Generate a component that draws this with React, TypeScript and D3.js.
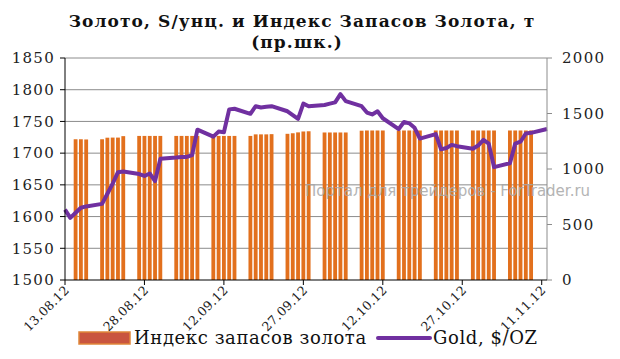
import * as d3 from "d3";

// trading days, 13.08.12 - 12.11.12
const days = [
  "13.08.12", "14.08.12", "15.08.12", "16.08.12", "17.08.12",
  "20.08.12", "21.08.12", "22.08.12", "23.08.12", "24.08.12",
  "27.08.12", "28.08.12", "29.08.12", "30.08.12", "31.08.12",
  "03.09.12", "04.09.12", "05.09.12", "06.09.12", "07.09.12",
  "10.09.12", "11.09.12", "12.09.12", "13.09.12", "14.09.12",
  "17.09.12", "18.09.12", "19.09.12", "20.09.12", "21.09.12",
  "24.09.12", "25.09.12", "26.09.12", "27.09.12", "28.09.12",
  "01.10.12", "02.10.12", "03.10.12", "04.10.12", "05.10.12",
  "08.10.12", "09.10.12", "10.10.12", "11.10.12", "12.10.12",
  "15.10.12", "16.10.12", "17.10.12", "18.10.12", "19.10.12",
  "22.10.12", "23.10.12", "24.10.12", "25.10.12", "26.10.12",
  "29.10.12", "30.10.12", "31.10.12", "01.11.12", "02.11.12",
  "05.11.12", "06.11.12", "07.11.12", "08.11.12", "09.11.12",
  "12.11.12",
];

// Gold, $/OZ (left scale)
const gold = [
  1611, 1598, 1606, 1614, 1616,
  1620, 1636, 1652, 1670, 1671,
  1667, 1664, 1668, 1656, 1691,
  1693, 1694, 1694, 1697, 1737,
  1726, 1734, 1733, 1769, 1770,
  1762, 1774, 1772, 1773, 1774,
  1766, 1760, 1754, 1778, 1774,
  1776, 1778, 1780, 1793, 1782,
  1774, 1764, 1761, 1766, 1755,
  1738, 1749, 1747, 1740, 1723,
  1730, 1706, 1708, 1713, 1711,
  1707, 1712, 1721, 1715, 1678,
  1684, 1715, 1718, 1731, 1732,
  1738,
];

// Индекс запасов золота, т (right scale)
const stock: (number | null)[] = [
  null, null, 1268, 1268, 1266,
  1268, 1282, 1283, 1283, 1296,
  1298, 1298, 1298, 1298, 1298,
  1298, 1298, 1298, 1298, 1298,
  1298, 1298, 1298, 1298, 1298,
  1298, 1312, 1312, 1312, 1314,
  1317, 1322, 1330, 1338, 1340,
  1329, 1329, 1329, 1329, 1329,
  1345, 1347, 1347, 1347, 1347,
  1347, 1347, 1347, 1347, 1347,
  1347, 1347, 1347, 1347, 1347,
  1347, 1347, 1347, 1347, 1347,
  1347, 1347, 1347, 1347, 1347,
  null,
];

const xTickLabels = ["13.08.12", "28.08.12", "12.09.12", "27.09.12", "12.10.12", "27.10.12", "11.11.12"];
const leftTicks = [1500, 1550, 1600, 1650, 1700, 1750, 1800, 1850];
const rightTicks = [0, 500, 1000, 1500, 2000];

const W = 620;
const H = 359;
const left = 65;
const right = 547;
const top = 58;
const bottom = 280;

const parse = d3.utcParse("%d.%m.%y");
const serif = "'DejaVu Serif', serif";

export default function App() {
  const dates = days.map((d) => parse(d) as Date);
  const x = d3.scaleUtc().domain([dates[0], dates[dates.length - 1]]).range([left, right]);
  const yL = d3.scaleLinear().domain([1500, 1850]).range([bottom, top]);
  const yR = d3.scaleLinear().domain([0, 2000]).range([bottom, top]);
  const dayW = x(d3.utcDay.offset(dates[0], 1)) - x(dates[0]);
  const barW = dayW * 0.72;

  const goldLine = d3
    .line<number>()
    .x((_, i) => x(dates[i]))
    .y((d) => yL(d));

  return (
    <svg width={W} height={H} style={{ position: "absolute", left: 0, top: 0, background: "#fff" }}>
      <text x={302} y={27} textAnchor="middle" fontFamily={serif} fontWeight="bold" fontSize={17} letterSpacing={1.1} fill="#111">
        Золото, S/унц. и Индекс Запасов Золота, т
      </text>
      <text x={297} y={48} textAnchor="middle" fontFamily={serif} fontWeight="bold" fontSize={17} letterSpacing={1.1} fill="#111">
        (пр.шк.)
      </text>

      {/* gridlines */}
      {leftTicks.slice(1).map((t) => (
        <line key={t} x1={left} x2={right} y1={yL(t)} y2={yL(t)} stroke="#8c8c8c" strokeWidth={1} />
      ))}

      {/* bars */}
      {stock.map((v, i) =>
        v == null ? null : (
          <rect
            key={i}
            x={x(dates[i]) - barW / 2}
            y={yR(v)}
            width={barW}
            height={bottom - yR(v)}
            fill="#E2701D"
          />
        )
      )}

      {/* watermark */}
      <text x={305} y={196} fontFamily="'DejaVu Sans', sans-serif" fontSize={15} fill="#a8a8a8" opacity={0.85}>
        Портал для трейдеров - ForTrader.ru
      </text>

      <path d={goldLine(gold) ?? ""} fill="none" stroke="#7030A0" strokeWidth={4} strokeLinejoin="round" />

      {/* left axis */}
      <line x1={left} x2={left} y1={top} y2={bottom} stroke="#000" />
      {leftTicks.map((t) => (
        <g key={t}>
          <line x1={left - 5} x2={left} y1={yL(t)} y2={yL(t)} stroke="#000" />
          <text x={55} y={yL(t)} dy="0.35em" textAnchor="end" fontFamily={serif} fontSize={15} letterSpacing={1.3} fill="#222">
            {t}
          </text>
        </g>
      ))}

      {/* right axis */}
      <line x1={right} x2={right} y1={top} y2={bottom} stroke="#8c8c8c" />
      {rightTicks.map((t) => (
        <g key={t}>
          <line x1={right} x2={right + 5} y1={yR(t)} y2={yR(t)} stroke="#8c8c8c" />
          <text x={562} y={yR(t)} dy="0.35em" fontFamily={serif} fontSize={15} letterSpacing={1.3} fill="#222">
            {t}
          </text>
        </g>
      ))}

      {/* bottom axis */}
      <line x1={left} x2={right} y1={bottom} y2={bottom} stroke="#000" />
      {xTickLabels.map((s) => {
        const tx = x(parse(s) as Date);
        return (
          <g key={s}>
            <line x1={tx} x2={tx} y1={bottom} y2={bottom + 5} stroke="#000" />
            <text
              transform={`translate(${tx + 5},${bottom + 11}) rotate(-45)`}
              textAnchor="end"
              fontFamily={serif}
              fontSize={12.5}
              letterSpacing={0.3}
              fill="#222"
            >
              {s}
            </text>
          </g>
        );
      })}

      {/* legend */}
      <rect x={79} y={332} width={51} height={12} fill="#C9553F" stroke="#E0863A" strokeWidth={1.5} />
      <text x={134} y={338} dy="0.35em" fontFamily={serif} fontSize={18} letterSpacing={0.6} fill="#111">
        Индекс запасов золота
      </text>
      <line x1={378} x2={430} y1={338} y2={338} stroke="#7030A0" strokeWidth={4} strokeLinecap="round" />
      <text x={433} y={338} dy="0.35em" fontFamily={serif} fontSize={18} letterSpacing={0.6} fill="#111">
        Gold, $/OZ
      </text>
    </svg>
  );
}
